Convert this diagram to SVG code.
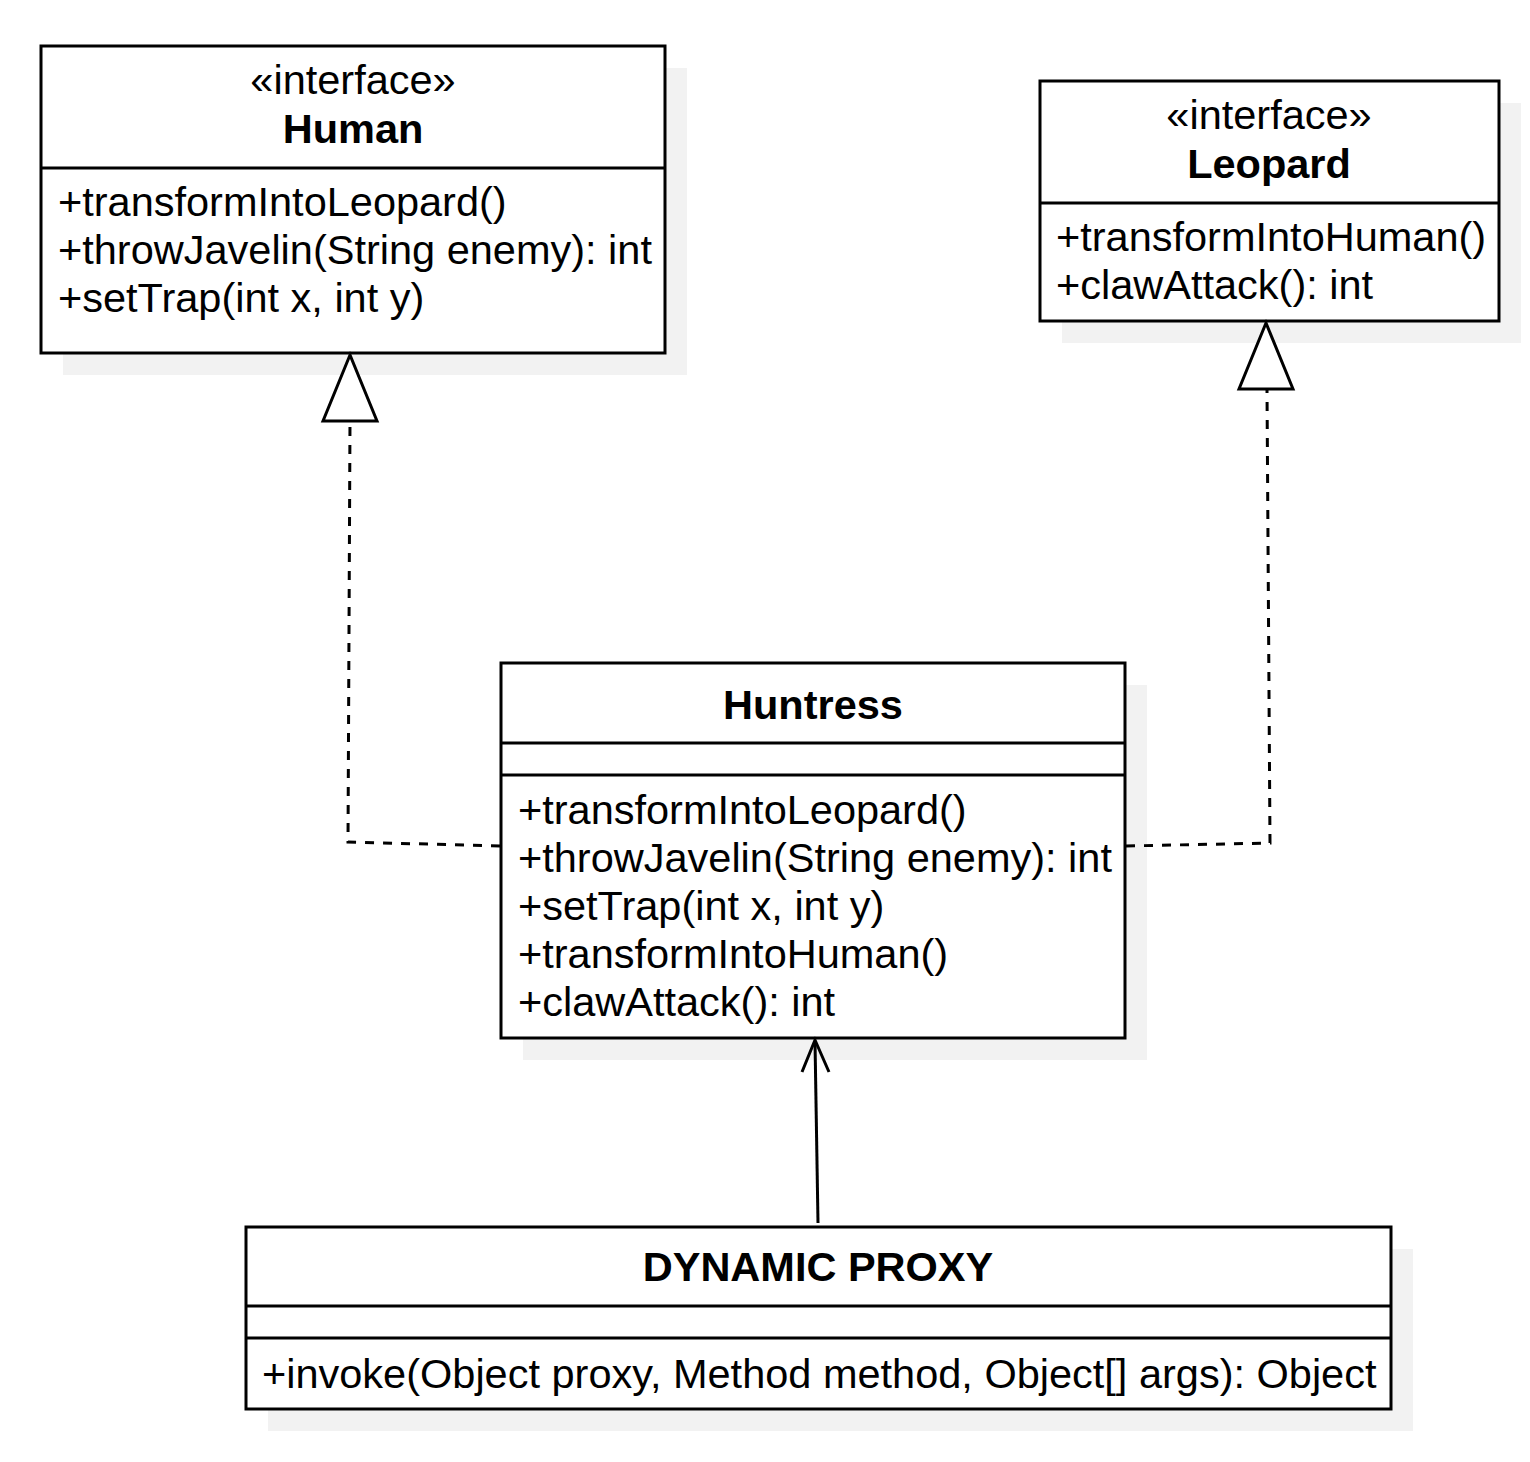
<svg xmlns="http://www.w3.org/2000/svg" width="1530" height="1462" viewBox="0 0 1530 1462">
<style>
.box{fill:#ffffff;stroke:#000000;stroke-width:3}
.shadow{fill:#f2f2f2;stroke:none}
.div{stroke:#000000;stroke-width:3;fill:none}
text{font-family:"Liberation Sans",Arial,sans-serif;font-size:41.5px;fill:#000000}
.c{text-anchor:middle}
.b{font-weight:bold}
.dash{fill:none;stroke:#000000;stroke-width:3;stroke-dasharray:9 9}
.solid{fill:none;stroke:#000000;stroke-width:3}
.tri{fill:#ffffff;stroke:#000000;stroke-width:3}
</style>
<rect width="1530" height="1462" fill="#ffffff"/>
<g id="human">
<rect class="shadow" x="63" y="68" width="624" height="307"/>
<rect class="box" x="41" y="46" width="624" height="307"/>
<line class="div" x1="41" y1="168" x2="665" y2="168"/>
<text class="c" x="353" y="94">«interface»</text>
<text class="c b" x="353" y="143">Human</text>
<text x="58" y="216">+transformIntoLeopard()</text>
<text x="58" y="264">+throwJavelin(String enemy): int</text>
<text x="58" y="312">+setTrap(int x, int y)</text>
</g>
<g id="leopard">
<rect class="shadow" x="1062" y="103" width="459" height="240"/>
<rect class="box" x="1040" y="81" width="459" height="240"/>
<line class="div" x1="1040" y1="203" x2="1499" y2="203"/>
<text class="c" x="1269" y="129">«interface»</text>
<text class="c b" x="1269" y="178">Leopard</text>
<text x="1056" y="251">+transformIntoHuman()</text>
<text x="1056" y="299">+clawAttack(): int</text>
</g>
<g id="huntress">
<rect class="shadow" x="523" y="685" width="624" height="375"/>
<rect class="box" x="501" y="663" width="624" height="375"/>
<line class="div" x1="501" y1="743" x2="1125" y2="743"/>
<line class="div" x1="501" y1="775" x2="1125" y2="775"/>
<text class="c b" x="813" y="719">Huntress</text>
<text x="518" y="824">+transformIntoLeopard()</text>
<text x="518" y="872">+throwJavelin(String enemy): int</text>
<text x="518" y="920">+setTrap(int x, int y)</text>
<text x="518" y="968">+transformIntoHuman()</text>
<text x="518" y="1016">+clawAttack(): int</text>
</g>
<g id="dynamic-proxy">
<rect class="shadow" x="268" y="1249" width="1145" height="182"/>
<rect class="box" x="246" y="1227" width="1145" height="182"/>
<line class="div" x1="246" y1="1306" x2="1391" y2="1306"/>
<line class="div" x1="246" y1="1338" x2="1391" y2="1338"/>
<text class="c b" x="818" y="1281">DYNAMIC PROXY</text>
<text x="262" y="1388">+invoke(Object proxy, Method method, Object[] args): Object</text>
</g>
<g id="connectors">
<polyline class="dash" points="500,846 348,842 350,421"/>
<polygon class="tri" points="350,355 323,421 377,421"/>
<polyline class="dash" points="1126,846 1270,843 1267,389"/>
<polygon class="tri" points="1266,323 1239,389 1293,389"/>
<line class="solid" x1="818" y1="1223" x2="815" y2="1041"/>
<polyline class="solid" points="802,1072 815,1040 829,1072"/>
</g>
</svg>
